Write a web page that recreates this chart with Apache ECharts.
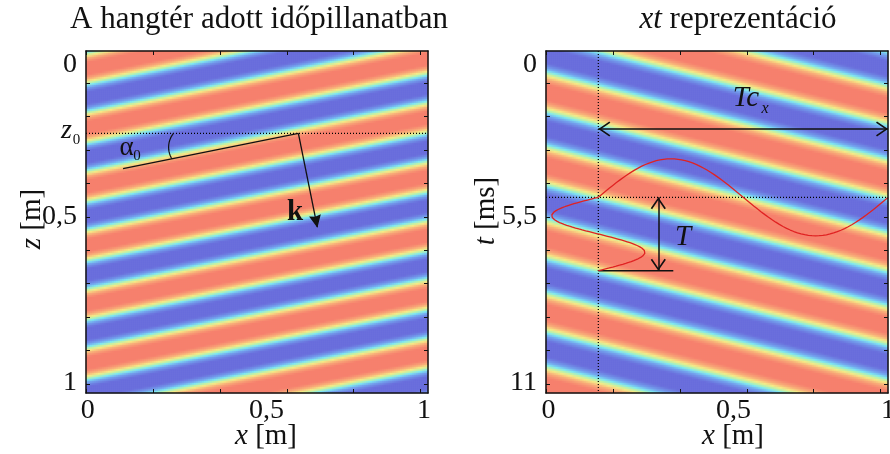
<!DOCTYPE html>
<html>
<head>
<meta charset="utf-8">
<title>Síkhullám – hangtér és xt reprezentáció</title>
<script src="https://cdn.jsdelivr.net/npm/echarts@6.0.0/dist/echarts.min.js"></script>
<style>
  html, body { margin: 0; padding: 0; background: #fff; }
  #chart { width: 890px; height: 454px; }
</style>
</head>
<body>
<div id="chart"></div>
<script>
// ---- Wave parameters ---------------------------------------------------
// Left panel: the field p(x, z) frozen at one instant
const alpha0Deg = 11.4;          // tilt of the wavefronts against the x axis
const wavelength = 0.169;        // m, measured normal to the wavefronts
const crestXAtTop = 0.26;        // m, a crest crosses z = 0 here
const z0 = 0.2406;               // m, dotted reference depth
const kOriginX = 0.621;          // m, where the α0 line and k start on z = z0
const alphaLineLength = 0.523;   // m
const kLength = 0.28;            // m
const arcStartX = 0.2558;        // m, angle mark: end on the dotted line
const arcEndX = 0.2509;          // m, angle mark: end on the α0 line
const arcBulge = 0.0117;         // m, sagitta of the angle mark

// Right panel: p(x, t) along the line z = z0
const periodX = 0.848;           // m, T·c_x
const periodT = 2.361;           // ms, T
const t0 = 4.706;                // ms, dotted time line
const xRef = 0.153;              // m, dotted position line
const tcArrowT = 2.509;          // ms, level of the T·c_x arrow
const tArrowX = 0.3284;          // m, position of the T arrow
const tBaseEndX = 0.3722;        // m, end of the short base line
const curveAmpT = 1.238;         // ms, amplitude drawn for p(x, t0)
const curveAmpX = 0.1363;        // m, amplitude drawn for p(xRef, t)
const tMax = 11;                 // ms

// ---- Axis ticks and labels --------------------------------------------
const xTickValues = [0.002, 0.197, 0.392, 0.587, 0.782, 0.977];
const zTickValues = [0.0944, 0.1921, 0.2898, 0.3874, 0.4851, 0.5828, 0.6804, 0.7781, 0.8757, 0.9734];
const tTickValues = [1.038, 2.113, 3.188, 4.261, 5.336, 6.411, 7.484, 8.559, 9.633, 10.707];

const xLabelText = ['0', '0,5', '1'];
const xLabelAtLeft = [0.005, 0.528, 0.988];
const xLabelAtRight = [0.007, 0.548, 1];
const zLabelText = ['0', '0,5', '1'];
const zLabelAt = [0.041, 0.485, 0.971];
const tLabelText = ['0', '5,5', '11'];
const tLabelAt = [0.45, 5.34, 10.68];

// Softened jet colour map: anchor value -> colour, from -1 (blue) to +1 (red)
const colourAnchorValues = [-1, -0.8, -0.45, -0.2, 0, 0.2, 0.45, 0.8, 1];
const colourAnchorHex = ['#6b6fdc', '#6b6fdc', '#74a4ee', '#7ee8f2', '#bdf2a8',
                         '#f6ea86', '#f8b07a', '#f6806e', '#f6806e'];

const FONT = 'Liberation Serif';
const INK = '#111111';
const CURVE = '#e02222';
const TICK_FONT = 28;
const NAME_FONT = 29;
const TITLE_FONT = 31;
const cells = 171;               // samples per side of each field image

// Evenly spaced colour list for visualMap, resampled from the anchors
function hexToRgb(h) {
  return [parseInt(h.slice(1, 3), 16), parseInt(h.slice(3, 5), 16), parseInt(h.slice(5, 7), 16)];
}
function colourAt(v) {
  let k = 0;
  while (k < colourAnchorValues.length - 2 && v > colourAnchorValues[k + 1]) k++;
  const a = colourAnchorValues[k], b = colourAnchorValues[k + 1];
  const f = Math.min(1, Math.max(0, (v - a) / (b - a)));
  const ca = hexToRgb(colourAnchorHex[k]), cb = hexToRgb(colourAnchorHex[k + 1]);
  const c = ca.map((x, i) => Math.round(x + (cb[i] - x) * f));
  return 'rgb(' + c.join(',') + ')';
}
const colourScale = [];
for (let n = 0; n <= 80; n++) colourScale.push(colourAt(-1 + 2 * n / 80));

// ---- Fields -----------------------------------------------------------
const alpha = alpha0Deg * Math.PI / 180;
function fieldXZ(x, z) {
  return Math.cos(2 * Math.PI * ((x - crestXAtTop) * Math.sin(alpha) + z * Math.cos(alpha)) / wavelength);
}
function fieldXT(x, t) {
  return Math.sin(2 * Math.PI * ((x - xRef) / periodX - (t - t0) / periodT));
}

const cellIndex = Array.from({ length: cells }, (_, i) => i);
const leftCells = [];
const rightCells = [];
for (let i = 0; i < cells; i++) {
  const x = (i + 0.5) / cells;
  for (let j = 0; j < cells; j++) {
    const s = (j + 0.5) / cells;
    leftCells.push([i, j, fieldXZ(x, s)]);
    rightCells.push([i, j, fieldXT(x, s * tMax)]);
  }
}

// Sections of the field drawn as red curves
const curveSamples = 160;
const curveAlongX = [];
for (let n = 0; n <= curveSamples; n++) {
  const x = xRef + (1 - xRef) * n / curveSamples;
  curveAlongX.push([x, t0 - curveAmpT * fieldXT(x, t0)]);
}
const curveAlongT = [];
for (let n = 0; n <= curveSamples; n++) {
  const t = t0 + periodT * n / curveSamples;
  curveAlongT.push([xRef + curveAmpX * fieldXT(xRef, t), t]);
}

// Geometry of the left-panel construction
const alphaLine = [
  [kOriginX, z0],
  [kOriginX - alphaLineLength * Math.cos(alpha), z0 + alphaLineLength * Math.sin(alpha)]
];
const kTip = [kOriginX + kLength * Math.sin(alpha), z0 + kLength * Math.cos(alpha)];

// angle mark: circular arc between the dotted line and the α0 line, bulging left
function angleMark() {
  const p1 = [arcStartX, z0];
  const p2 = [arcEndX, z0 + (kOriginX - arcEndX) * Math.tan(alpha)];
  const dx = p2[0] - p1[0], dz = p2[1] - p1[1];
  const c = Math.hypot(dx, dz);
  const u = [dx / c, dz / c];
  const nRight = [u[1], -u[0]];
  const r = (c * c / 4 + arcBulge * arcBulge) / (2 * arcBulge);
  const mid = [(p1[0] + p2[0]) / 2, (p1[1] + p2[1]) / 2];
  const ctr = [mid[0] + nRight[0] * (r - arcBulge), mid[1] + nRight[1] * (r - arcBulge)];
  const a1 = Math.atan2(p1[1] - ctr[1], p1[0] - ctr[0]);
  let da = Math.atan2(p2[1] - ctr[1], p2[0] - ctr[0]) - a1;
  if (da > Math.PI) da -= 2 * Math.PI;
  if (da < -Math.PI) da += 2 * Math.PI;
  const pts = [];
  for (let n = 0; n <= 24; n++) {
    const a = a1 + da * n / 24;
    pts.push([ctr[0] + r * Math.cos(a), ctr[1] + r * Math.sin(a)]);
  }
  return pts;
}
const arcPoints = angleMark();

// ---- Axis helpers -----------------------------------------------------
function pickLabel(at, text) {
  return function (v) {
    let best = 0;
    for (let i = 1; i < at.length; i++) {
      if (Math.abs(at[i] - v) < Math.abs(at[best] - v)) best = i;
    }
    return text[best];
  };
}

function frameAxis(gridIndex, position, min, max, inverse, ticks, labelAt, labelText, margin) {
  const vertical = position === 'left' || position === 'right';
  return {
    type: 'value', gridIndex, position, min, max, inverse, z: 10,
    axisLine: { show: true, onZero: false, lineStyle: { color: INK, width: 1.5 } },
    axisTick: { show: true, inside: true, length: 4, customValues: ticks,
                lineStyle: { color: INK, width: 1 } },
    axisLabel: labelAt ? {
      show: true, customValues: labelAt, formatter: pickLabel(labelAt, labelText),
      margin, fontFamily: FONT, fontSize: TICK_FONT, color: INK,
      align: vertical ? 'right' : 'center', verticalAlign: vertical ? 'middle' : 'top',
      hideOverlap: false
    } : { show: false },
    splitLine: { show: false },
    axisPointer: { show: false }
  };
}

function cellAxis(gridIndex, inverse) {
  return { type: 'category', gridIndex, data: cellIndex, show: false, inverse };
}

function lineSeries(xi, yi, data, style) {
  return {
    type: 'line', xAxisIndex: xi, yAxisIndex: yi, data, symbol: 'none', showSymbol: false,
    silent: true, z: 5, lineStyle: style, animation: false
  };
}

// open chevron and filled head, tip at the centre of a 24×24 box
const CHEVRON = 'path://M0,0 M24,24 M12,12 L19.6,23 L18.2,24 L12,14.8 L5.8,24 L4.4,23 Z';
const HEAD = 'path://M0,0 M24,24 M12,12 L18,25 L12,23.5 L6,25 Z';

function arrowSeries(xi, yi, from, to, symbols, width) {
  return {
    type: 'lines', coordinateSystem: 'cartesian2d', xAxisIndex: xi, yAxisIndex: yi,
    silent: true, z: 6, symbol: symbols, symbolSize: 24, animation: false,
    lineStyle: { color: INK, width, opacity: 1, curveness: 0 },
    data: [{ coords: [from, to] }]
  };
}

function label(x, y, text, size, extra) {
  return {
    type: 'text', x, y, z: 100, silent: true,
    style: Object.assign({
      text, fontFamily: FONT, fontSize: size, fill: INK,
      align: 'center', verticalAlign: 'middle'
    }, extra || {})
  };
}
function italic(size) {
  return { fontStyle: 'italic', fontFamily: FONT, fontSize: size, fill: INK };
}

const dotted = { color: '#000', width: 1.2, type: [1, 2] };
const solid = { color: INK, width: 1.3 };

const option = {
  animation: false,
  backgroundColor: '#ffffff',
  grid: [
    { left: 86, top: 51, width: 342, height: 342, containLabel: false, outerBoundsMode: 'none' },
    { left: 546, top: 51, width: 342, height: 342, containLabel: false, outerBoundsMode: 'none' }
  ],
  xAxis: [
    cellAxis(0, false),
    frameAxis(0, 'bottom', 0, 1, false, xTickValues, xLabelAtLeft, xLabelText, 4),
    frameAxis(0, 'top', 0, 1, false, xTickValues),
    cellAxis(1, false),
    frameAxis(1, 'bottom', 0, 1, false, xTickValues, xLabelAtRight, xLabelText, 4),
    frameAxis(1, 'top', 0, 1, false, xTickValues)
  ],
  yAxis: [
    cellAxis(0, true),
    frameAxis(0, 'left', 0, 1, true, zTickValues, zLabelAt, zLabelText, 9),
    frameAxis(0, 'right', 0, 1, true, zTickValues),
    cellAxis(1, true),
    frameAxis(1, 'left', 0, tMax, true, tTickValues, tLabelAt, tLabelText, 9),
    frameAxis(1, 'right', 0, tMax, true, tTickValues)
  ],
  visualMap: {
    type: 'continuous', show: false, min: -1, max: 1, dimension: 2,
    seriesIndex: [0, 1], inRange: { color: colourScale }
  },
  series: [
    { type: 'heatmap', name: 'p(x,z)', xAxisIndex: 0, yAxisIndex: 0, data: leftCells,
      progressive: 0, silent: true, itemStyle: { borderWidth: 0 }, emphasis: { disabled: true } },
    { type: 'heatmap', name: 'p(x,t)', xAxisIndex: 3, yAxisIndex: 3, data: rightCells,
      progressive: 0, silent: true, itemStyle: { borderWidth: 0 }, emphasis: { disabled: true } },

    // left panel construction
    lineSeries(1, 1, [[0, z0], [1, z0]], dotted),
    lineSeries(1, 1, alphaLine, solid),
    lineSeries(1, 1, arcPoints, { color: INK, width: 1.2 }),
    arrowSeries(1, 1, [kOriginX, z0], kTip, ['none', HEAD], 1.3),

    // right panel construction
    lineSeries(4, 4, [[xRef, 0], [xRef, tMax]], dotted),
    lineSeries(4, 4, [[0, t0], [1, t0]], dotted),
    arrowSeries(4, 4, [xRef, tcArrowT], [1, tcArrowT], [CHEVRON, CHEVRON], 1.5),
    arrowSeries(4, 4, [tArrowX, t0], [tArrowX, t0 + periodT], [CHEVRON, CHEVRON], 1.5),
    lineSeries(4, 4, [[xRef, t0 + periodT], [tBaseEndX, t0 + periodT]], { color: INK, width: 1.5 }),
    lineSeries(4, 4, curveAlongX, { color: CURVE, width: 1.3 }),
    lineSeries(4, 4, curveAlongT, { color: CURVE, width: 1.3 })
  ],
  graphic: [
    label(259, 19.5, 'A hangtér adott időpillanatban', TITLE_FONT),
    label(738, 19.5, '{i|xt} reprezentáció', TITLE_FONT, { rich: { i: italic(TITLE_FONT) } }),
    label(266, 436, '{i|x} [m]', NAME_FONT, { rich: { i: italic(NAME_FONT) } }),
    label(733, 436, '{i|x} [m]', NAME_FONT, { rich: { i: italic(NAME_FONT) } }),
    Object.assign(label(32, 219, '{i|z} [m]', NAME_FONT, { rich: { i: italic(NAME_FONT) } }), { rotation: Math.PI / 2 }),
    Object.assign(label(486, 211, '{i|t} [ms]', NAME_FONT, { rich: { i: italic(NAME_FONT) } }), { rotation: Math.PI / 2 }),
    label(66.5, 131, 'z', 28, { fontStyle: 'italic' }),
    label(76.5, 140, '0', 15),
    label(126.5, 148, 'α', 27),
    label(137, 156, '0', 15),
    label(295, 212.5, 'k', 29, { fontWeight: 'bold' }),
    label(746, 98.5, 'Tc', 29, { fontStyle: 'italic' }),
    label(765, 109, 'x', 16, { fontStyle: 'italic' }),
    label(683, 237.5, 'T', 29, { fontStyle: 'italic' })
  ]
};

const chart = echarts.init(document.getElementById('chart'), null, { renderer: 'canvas' });
chart.setOption(option);
</script>
</body>
</html>
